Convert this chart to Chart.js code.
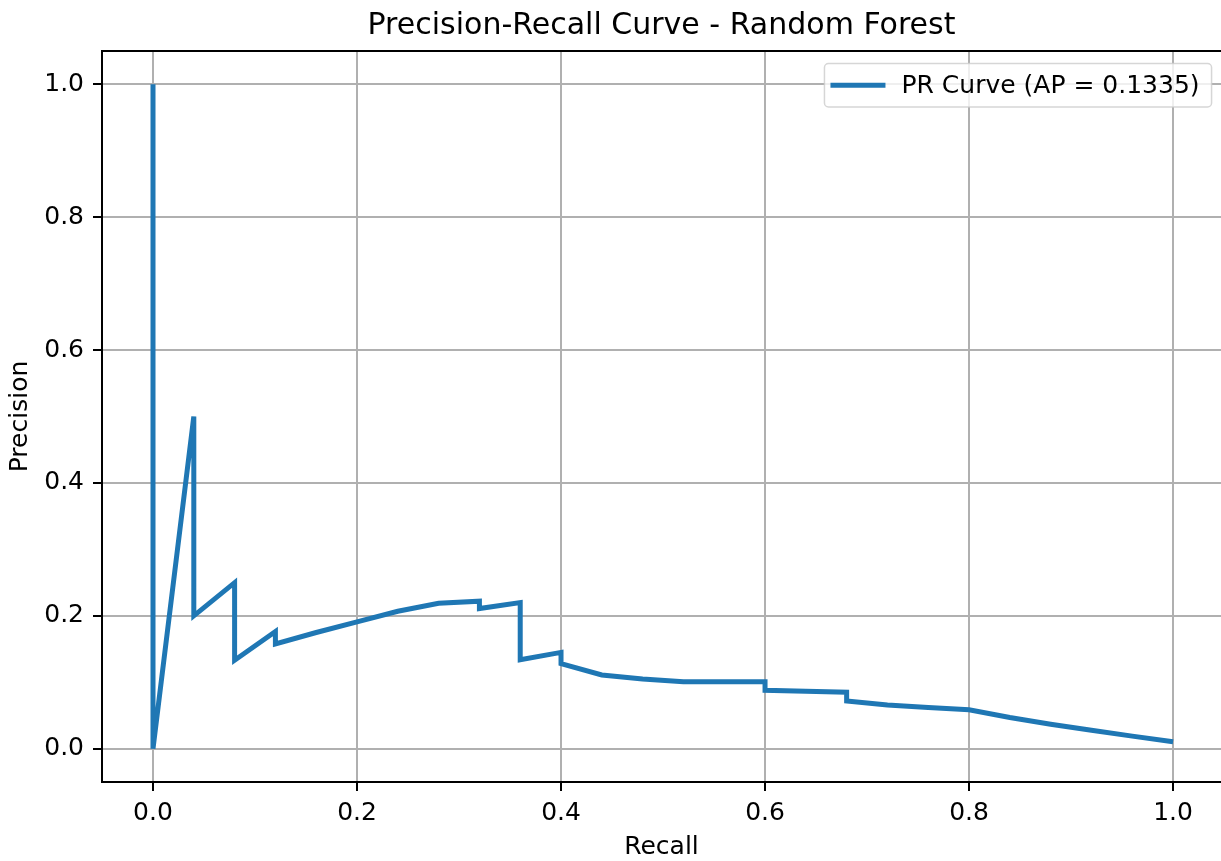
<!DOCTYPE html>
<html>
<head>
<meta charset="utf-8">
<title>Precision-Recall Curve - Random Forest</title>
<script src="https://cdn.jsdelivr.net/npm/chart.js@4.4.1/dist/chart.umd.min.js"></script>
<style>
  html, body { margin: 0; padding: 0; background: #fff; }
  canvas { display: block; }
</style>
</head>
<body>
<canvas id="pr-chart" width="1221" height="861"></canvas>
<script>
// PR curve (recall ascending, same path as sklearn output)
const recall = [0, 0, 0.04, 0.04, 0.08, 0.08, 0.12, 0.12, 0.16, 0.20, 0.24, 0.28,
  0.32, 0.32, 0.36, 0.36, 0.40, 0.40, 0.44, 0.48, 0.52, 0.56, 0.60, 0.60,
  0.64, 0.68, 0.68, 0.72, 0.76, 0.80, 0.84, 0.88, 0.92, 0.96, 1.00];
const precision = [1.0, 0.0, 0.5, 0.2, 0.25, 0.1333, 0.1765, 0.1579, 0.175, 0.191, 0.207, 0.219,
  0.222, 0.211, 0.220, 0.134, 0.145, 0.128, 0.111, 0.105, 0.101, 0.101, 0.101, 0.088,
  0.0865, 0.085, 0.072, 0.066, 0.062, 0.0587, 0.047, 0.037, 0.028, 0.019, 0.0105];
const xTicks = [0, 0.2, 0.4, 0.6, 0.8, 1.0];
const yTicks = [0, 0.2, 0.4, 0.6, 0.8, 1.0];
const curveLabel = 'PR Curve (AP = 0.1335)';

const FONT = 'DejaVu Sans';
const blue = '#1f77b4';

// matplotlib style box round the axes (top + right spines)
const frameBox = {
  id: 'frameBox',
  afterDraw(chart) {
    const {ctx, chartArea: a} = chart;
    ctx.save();
    ctx.strokeStyle = '#000';
    ctx.lineWidth = 2;
    ctx.strokeRect(a.left, a.top, chart.scales.x.getPixelForValue(1.05) - a.left, a.bottom - a.top);
    ctx.restore();
  }
};

// legend in the upper right, like plt.legend()
const boxLegend = {
  id: 'boxLegend',
  afterDraw(chart) {
    const {ctx, chartArea: a} = chart;
    const ds = chart.data.datasets[0];
    ctx.save();
    ctx.font = '25px "' + FONT + '"';
    const tw = ctx.measureText(ds.label).width;
    const right = chart.scales.x.getPixelForValue(1.05) - 12.5;
    const top = a.top + 12.5;
    const w = 6 + 55 + 16 + tw + 12;
    const h = 43.5;
    const left = right - w;
    ctx.beginPath();
    ctx.roundRect(left, top, w, h, 4);
    ctx.fillStyle = 'rgba(255,255,255,0.8)';
    ctx.fill();
    ctx.strokeStyle = 'rgba(204,204,204,0.8)';
    ctx.lineWidth = 1.5;
    ctx.stroke();
    const cy = top + h / 2;
    ctx.beginPath();
    ctx.moveTo(left + 6, cy);
    ctx.lineTo(left + 61, cy);
    ctx.strokeStyle = ds.borderColor;
    ctx.lineWidth = ds.borderWidth;
    ctx.stroke();
    ctx.fillStyle = '#000';
    ctx.textBaseline = 'middle';
    ctx.textAlign = 'left';
    ctx.fillText(ds.label, left + 77, cy + 1);
    ctx.restore();
  }
};

const ctx = document.getElementById('pr-chart').getContext('2d');
new Chart(ctx, {
  type: 'scatter',
  data: {
    datasets: [{
      label: curveLabel,
      data: recall.map((r, i) => ({x: r, y: precision[i]})),
      showLine: true,
      borderColor: blue,
      backgroundColor: blue,
      borderWidth: 5,
      pointRadius: 0,
      tension: 0,
      borderJoinStyle: 'miter'
    }]
  },
  options: {
    responsive: false,
    animation: false,
    layout: { padding: 0 },
    plugins: {
      legend: { display: false },
      tooltip: { enabled: false },
      title: {
        display: true,
        fullSize: false,   // centre over the axes, not the whole canvas
        text: 'Precision-Recall Curve - Random Forest',
        color: '#000',
        font: { family: FONT, size: 30, weight: 'normal' },
        padding: { top: 8, bottom: 7 }
      }
    },
    scales: {
      x: {
        type: 'linear',
        min: -0.05,
        max: 1.047,
        afterBuildTicks: s => { s.ticks = xTicks.map(v => ({value: v})); },
        afterFit: s => { s.height = 79; },
        ticks: {
          color: '#000',
          font: { family: FONT, size: 25 },
          padding: 7,
          maxRotation: 0,
          callback: v => v.toFixed(1)
        },
        grid: { color: '#b0b0b0', lineWidth: 2, tickColor: '#000', tickLength: 9, tickWidth: 2 },
        border: { display: true, color: '#000', width: 2 },
        title: {
          display: true,
          text: 'Recall',
          color: '#000',
          font: { family: FONT, size: 25, lineHeight: 1 },
          padding: { top: 0, bottom: 1 }
        }
      },
      y: {
        type: 'linear',
        min: -0.05,
        max: 1.05,
        afterBuildTicks: s => { s.ticks = yTicks.map(v => ({value: v})); },
        afterFit: s => { s.width = 102; },
        ticks: {
          color: '#000',
          font: { family: FONT, size: 25 },
          padding: 9,
          callback: v => v.toFixed(1)
        },
        grid: { color: '#b0b0b0', lineWidth: 2, tickColor: '#000', tickLength: 9, tickWidth: 2 },
        border: { display: true, color: '#000', width: 2 },
        title: {
          display: true,
          text: 'Precision',
          color: '#000',
          font: { family: FONT, size: 25, lineHeight: 1 },
          padding: { top: 8, bottom: 0 }
        }
      }
    }
  },
  plugins: [frameBox, boxLegend]
});
</script>
</body>
</html>
